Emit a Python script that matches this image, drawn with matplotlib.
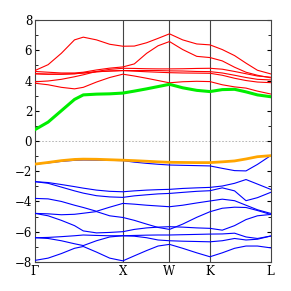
import matplotlib
matplotlib.use("Agg")
import matplotlib.pyplot as plt
from matplotlib.ticker import MultipleLocator

# k-path positions (high-symmetry points) and sample k values
kpath_pos = [0.0, 1.0, 1.53, 1.99, 2.68]
kpath_lab = ["Γ", "X", "W", "K", "L"]
kpts = [0.0, 0.15, 0.3, 0.45, 0.55, 0.7, 0.85, 1.0,
        1.13, 1.27, 1.4, 1.53, 1.68, 1.84, 1.99,
        2.13, 2.27, 2.4, 2.53, 2.68]

# conduction bands
cb_low = [0.75, 1.25, 2.0, 2.75, 3.05, 3.1, 3.12, 3.17, 3.3, 3.45, 3.6, 3.75,
          3.52, 3.35, 3.27, 3.4, 3.42, 3.25, 3.05, 2.93]
cb_r1 = [4.66, 5.05, 5.8, 6.69, 6.87, 6.69, 6.4, 6.27, 6.28, 6.5, 6.79, 7.09,
         6.69, 6.42, 6.36, 6.05, 5.65, 5.15, 4.68, 4.44]
cb_r2 = [4.6, 4.55, 4.5, 4.5, 4.55, 4.7, 4.82, 4.9, 5.1, 5.8, 6.3, 6.58,
         6.05, 5.6, 5.52, 5.3, 4.88, 4.55, 4.35, 4.18]
cb_r3 = [4.45, 4.42, 4.42, 4.45, 4.5, 4.58, 4.63, 4.66, 4.66, 4.66, 4.66, 4.64,
         4.63, 4.6, 4.59, 4.5, 4.35, 4.2, 4.08, 4.04]
cb_r4 = [4.45, 4.42, 4.42, 4.45, 4.5, 4.58, 4.63, 4.66, 4.62, 4.58, 4.55, 4.52,
         4.5, 4.49, 4.48, 4.35, 4.15, 4.0, 3.9, 3.86]
cb_r5 = [3.92, 3.97, 4.08, 4.25, 4.38, 4.6, 4.74, 4.81, 4.8, 4.78, 4.77, 4.77,
         4.78, 4.8, 4.81, 4.75, 4.6, 4.45, 4.3, 4.22]
cb_r6 = [3.82, 3.72, 3.55, 3.45, 3.55, 3.9, 4.2, 4.42, 4.3, 4.15, 4.0, 3.85,
         3.92, 3.95, 3.93, 3.72, 3.58, 3.5, 3.3, 3.11]

# valence bands
vb_top = [-1.53, -1.42, -1.3, -1.22, -1.2, -1.21, -1.24, -1.27, -1.3, -1.34, -1.38, -1.41,
          -1.42, -1.43, -1.43, -1.38, -1.32, -1.19, -1.04, -0.97]
vb_2 = [-1.53, -1.45, -1.35, -1.28, -1.26, -1.27, -1.28, -1.3, -1.4, -1.48, -1.54, -1.59,
        -1.61, -1.63, -1.65, -1.81, -1.96, -1.98, -1.55, -0.97]
vb_3 = [-2.69, -2.75, -2.88, -3.02, -3.12, -3.25, -3.33, -3.36, -3.3, -3.25, -3.22, -3.2,
        -3.14, -3.1, -3.07, -2.98, -2.8, -2.55, -2.85, -3.2]
vb_4 = [-2.69, -2.8, -3.05, -3.3, -3.45, -3.62, -3.7, -3.73, -3.63, -3.56, -3.5, -3.47,
        -3.4, -3.33, -3.29, -3.1, -3.3, -3.95, -3.75, -3.4]
vb_5 = [-3.8, -3.83, -4.0, -4.25, -4.4, -4.65, -4.38, -4.13, -4.18, -4.25, -4.3, -4.35,
        -4.25, -4.1, -3.97, -3.85, -3.95, -4.25, -4.55, -4.79]
vb_6 = [-4.79, -4.82, -4.88, -4.85, -4.78, -4.67, -4.95, -5.06, -5.25, -5.5, -5.72, -5.85,
        -5.5, -5.05, -4.68, -4.45, -4.38, -4.4, -4.6, -4.86]
vb_7 = [-4.79, -4.95, -5.25, -5.6, -5.95, -6.08, -6.05, -6.0, -5.85, -5.75, -5.7, -5.67,
        -5.7, -5.75, -5.78, -5.9, -5.6, -5.2, -4.95, -4.86]
vb_8 = [-6.4, -6.38, -6.33, -6.27, -6.22, -6.25, -6.27, -6.27, -6.25, -6.23, -6.22, -6.22,
        -6.2, -6.18, -6.16, -6.15, -6.1, -6.35, -6.45, -6.29]
vb_9 = [-6.4, -6.45, -6.6, -6.8, -6.92, -6.6, -6.35, -6.27, -6.3, -6.4, -6.55, -6.6,
        -6.63, -6.65, -6.67, -6.6, -6.45, -6.55, -6.5, -6.29]
vb_10 = [-7.9, -7.75, -7.45, -7.1, -6.98, -7.35, -7.75, -7.93, -7.6, -7.25, -6.95, -6.84,
         -7.1, -7.4, -7.66, -7.4, -7.1, -6.95, -6.95, -7.07]

plt.rcParams['font.family'] = ['DejaVu Serif']

fig = plt.figure(figsize=(2.91, 2.91), dpi=100)
ax = fig.add_axes([0.12, 0.1, 0.81, 0.831])

for b in [vb_2, vb_3, vb_4, vb_5, vb_6, vb_7, vb_8, vb_9, vb_10]:
    ax.plot(kpts, b, color='#0000ff', lw=0.8, zorder=3)
ax.plot(kpts, vb_top, color='#ffa500', lw=2.0, zorder=4)

for b in [cb_r1, cb_r2, cb_r3, cb_r4, cb_r5, cb_r6]:
    ax.plot(kpts, b, color='#ff0000', lw=0.8, zorder=3)
ax.plot(kpts, cb_low, color='#00ee00', lw=2.2, zorder=4)

# high-symmetry lines and Fermi level
for x in kpath_pos[1:-1]:
    ax.axvline(x, color='#444444', lw=0.8, zorder=2)
ax.axhline(0, color='#aaaaaa', lw=0.6, ls=(0, (2, 2)), zorder=1)

ax.set_xlim(kpath_pos[0], kpath_pos[-1])
ax.set_ylim(-8, 8)
ax.set_xticks(kpath_pos)
ax.set_xticklabels(kpath_lab)
ax.yaxis.set_major_locator(MultipleLocator(2))
ax.yaxis.set_minor_locator(MultipleLocator(1))
ax.tick_params(axis='x', length=0, pad=2, labelsize=8.5)
ax.tick_params(axis='y', which='both', direction='in', right=True, labelsize=8.5, pad=2)
ax.tick_params(axis='y', which='major', length=3)
ax.tick_params(axis='y', which='minor', length=2)
for s in ax.spines.values():
    s.set_color('#444444')
    s.set_linewidth(0.8)

fig.savefig('out.png', dpi=100)
